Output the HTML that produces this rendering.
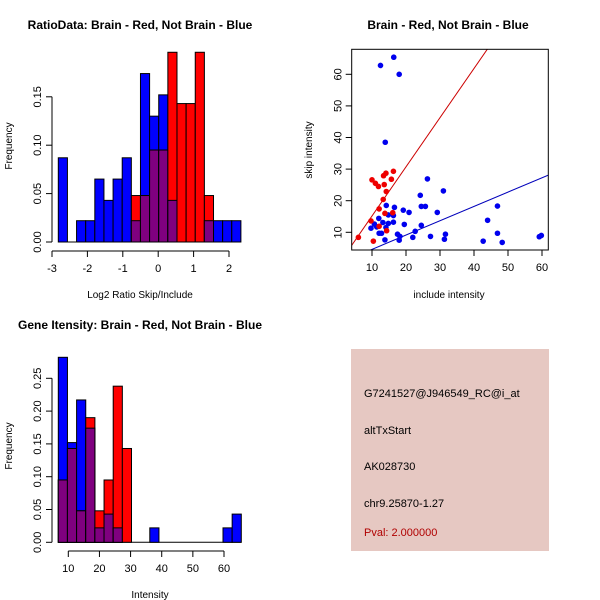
<!DOCTYPE html>
<html><head><meta charset="utf-8"><style>
body{margin:0;background:#fff;}
svg{display:block;font-family:"Liberation Sans",sans-serif;}
</style></head><body>
<svg id="c" width="600" height="600" xmlns="http://www.w3.org/2000/svg">
<rect width="600" height="600" fill="#fff"/>
<g id="p1"></g>
<g id="p2"></g>
<g id="p3"></g>
<g id="p4">
<rect x="351" y="349" width="198" height="202" fill="#e6c8c2"/>
<text x="364" y="397" font-size="11">G7241527@J946549_RC@i_at</text>
<text x="364" y="434" font-size="11">altTxStart</text>
<text x="364" y="470" font-size="11">AK028730</text>
<text x="364" y="507" font-size="11">chr9.25870-1.27</text>
<text x="364" y="536" font-size="11" fill="#b00000">Pval: 2.000000</text>
</g>
</svg>
<script>
// Ratio histogram data
const ratioBlue=[0.087,0,0.022,0.022,0.065,0.043,0.065,0.087,0.022,0.174,0.13,0.152,0.043,0,0,0,0.022,0.022,0.022,0.022];
const ratioRed=[0,0,0,0,0,0,0,0,0.048,0.048,0.095,0.095,0.196,0.143,0.143,0.196,0.048,0,0,0];
const ratioXTicks=[-3,-2,-1,0,1,2];
const freqTicks1=[0,0.05,0.10,0.15];
// Intensity histogram data
const intBlue=[0.282,0.152,0.217,0.174,0.022,0.043,0.022,0,0,0,0.022,0,0,0,0,0,0,0,0.022,0.043];
const intRed=[0.095,0.143,0.048,0.19,0.048,0.095,0.238,0.143,0,0,0,0,0,0,0,0,0,0,0,0];
const intXTicks=[10,20,30,40,50,60];
const freqTicks3=[0,0.05,0.10,0.15,0.20,0.25];
// Scatter data
const blueX=[16.4,12.5,18,13.9,26.3,31,24.2,46.9,24.5,25.7,14.2,16.6,19.2,20.9,29.2,44,12,14.8,16.3,13.2,14.8,16.3,10.7,9.7,11.4,19.5,24.5,22.7,12.1,12.8,17.5,31.6,18.2,27.2,22,13.8,18,31.3,42.7,48.3,46.9,59.2,59.8,14.1];
const blueY=[65.4,62.8,60,38.5,26.9,23.1,21.7,18.3,18.2,18.2,18.5,17.9,17,16.3,16.3,13.8,14.4,15.5,15.3,13.1,12.8,13.2,12.6,11.3,11.7,12.5,12.2,10.3,9.7,9.7,9.4,9.4,8.7,8.7,8.4,7.6,7.5,7.8,7.2,6.8,9.7,8.6,9,11.5];
const redX=[6,10.4,9.7,10,11,11.9,13.6,13.4,14.1,15.7,16.3,14.2,13.3,12.1,13.8,16.1,12.1,14.3];
const redY=[8.4,7.2,13.6,26.6,25.5,24.5,25.1,27.9,28.7,26.8,29.3,22.9,20.4,17.4,16,16.2,11.9,10.5];
const redLine=[1.556,-0.4];
const blueLine=[0.453,0.07];
const scXTicks=[10,20,30,40,50,60];
const scYTicks=[10,20,30,40,50,60];

const NS="http://www.w3.org/2000/svg";
function mk(parent,tag,attrs){const e=document.createElementNS(NS,tag);for(const k in attrs)e.setAttribute(k,attrs[k]);parent.appendChild(e);return e;}
function txt(parent,x,y,s,size,extra){const t=mk(parent,'text',Object.assign({x:x,y:y,'font-size':size,'text-anchor':'middle'},extra||{}));t.textContent=s;return t;}

function hist(g,blue,red,x0,bw,yz,ppu,xticks,xs,yticks,axY,axX,title,xlab,fmtY){
  const n=blue.length;
  mk(g,'line',{x1:x0,y1:yz,x2:x0+n*bw,y2:yz,stroke:'#000'});
  for(let i=0;i<n;i++){
    const x=x0+i*bw;
    if(blue[i]>0){const r=mk(g,'rect',{x:x,y:yz-blue[i]*ppu,width:bw,height:blue[i]*ppu,fill:'#0000ff',stroke:'#000','stroke-width':1});
      
      }
    if(red[i]>0){const r=mk(g,'rect',{x:x,y:yz-red[i]*ppu,width:bw,height:red[i]*ppu,fill:'#ff0000',stroke:'#000','stroke-width':1});
      
      }
    const m=Math.min(blue[i],red[i]);
    if(m>0){const r=mk(g,'rect',{x:x,y:yz-m*ppu,width:bw,height:m*ppu,fill:'#7f007f',stroke:'#000','stroke-width':1});
      
      }
  }
  // x axis
  const xa=mk(g,'g',{});
  
  
  mk(xa,'line',{x1:xs(xticks[0]),y1:axY,x2:xs(xticks[xticks.length-1]),y2:axY,stroke:'#000'});
  xticks.forEach(v=>{mk(xa,'line',{x1:xs(v),y1:axY,x2:xs(v),y2:axY+6,stroke:'#000'});txt(xa,xs(v),axY+21,String(v),11);});
  const ya=mk(g,'g',{});
  
  
  const ys=v=>yz-v*ppu;
  mk(ya,'line',{x1:axX,y1:ys(yticks[0]),x2:axX,y2:ys(yticks[yticks.length-1]),stroke:'#000'});
  yticks.forEach(v=>{mk(ya,'line',{x1:axX,y1:ys(v),x2:axX-6,y2:ys(v),stroke:'#000'});
    txt(ya,axX-11,ys(v),v.toFixed(2),11,{transform:`rotate(-90 ${axX-11} ${ys(v)})`});});
  return ys;
}

// Panel 1
const g1=document.getElementById('p1');
const xs1=v=>52+(v+3)*35.4;
hist(g1,ratioBlue,ratioRed,58.3,9.13,242,968,ratioXTicks,xs1,freqTicks1,251,52);
let t=txt(g1,140,29,'RatioData: Brain - Red, Not Brain - Blue',12,{'font-weight':'bold'});
t=txt(g1,140,298,'Log2 Ratio Skip/Include',10);
t=txt(g1,12,146,'Frequency',10,{transform:'rotate(-90 12 146)'});

// Panel 3
const g3=document.getElementById('p3');
const xs3=v=>68.3+(v-10)*3.114;
hist(g3,intBlue,intRed,58.3,9.15,542.3,656,intXTicks,xs3,freqTicks3,551,52);
t=txt(g3,140,329,'Gene Itensity: Brain - Red, Not Brain - Blue',12,{'font-weight':'bold'});
t=txt(g3,150,598,'Intensity',10);
t=txt(g3,12,446,'Frequency',10,{transform:'rotate(-90 12 446)'});

// Panel 2 scatter
const g2=document.getElementById('p2');
const L=351.7,R=548.3,T=49.3,B=250;
const sx=v=>372+(v-10)*3.4, sy=v=>232.3-(v-10)*3.16;
const cp=mk(g2,'clipPath',{id:'clp'});mk(cp,'rect',{x:L,y:T,width:R-L,height:B-T});
[[redLine,'#cc0000','red-fit-line'],[blueLine,'#0000bb','blue-fit-line']].forEach(([ln,col,nm])=>{
  const xa=0,xb=70;
  const l=mk(g2,'line',{x1:sx(xa),y1:sy(ln[0]*xa+ln[1]),x2:sx(xb),y2:sy(ln[0]*xb+ln[1]),stroke:col,'stroke-width':1,'clip-path':'url(#clp)'});
  
  
});
blueX.forEach((x,i)=>{const c=mk(g2,'circle',{cx:sx(x),cy:sy(blueY[i]),r:2.8,fill:'#0000ee'});
  
  });
redX.forEach((x,i)=>{const c=mk(g2,'circle',{cx:sx(x),cy:sy(redY[i]),r:2.8,fill:'#ee0000'});
  
  });
mk(g2,'rect',{x:L,y:T,width:R-L,height:B-T,fill:'none',stroke:'#000'});
scXTicks.forEach(v=>{mk(g2,'line',{x1:sx(v),y1:B,x2:sx(v),y2:B+6,stroke:'#000'});txt(g2,sx(v),B+21,String(v),11);});
scYTicks.forEach(v=>{mk(g2,'line',{x1:L,y1:sy(v),x2:L-6,y2:sy(v),stroke:'#000'});txt(g2,L-10,sy(v),String(v),11,{transform:`rotate(-90 ${L-10} ${sy(v)})`});});
t=txt(g2,448,29,'Brain - Red, Not Brain - Blue',12,{'font-weight':'bold'});
t=txt(g2,449,298,'include intensity',10);
t=txt(g2,312,150,'skip intensity',10,{transform:'rotate(-90 312 150)'});
</script>
</body></html>
